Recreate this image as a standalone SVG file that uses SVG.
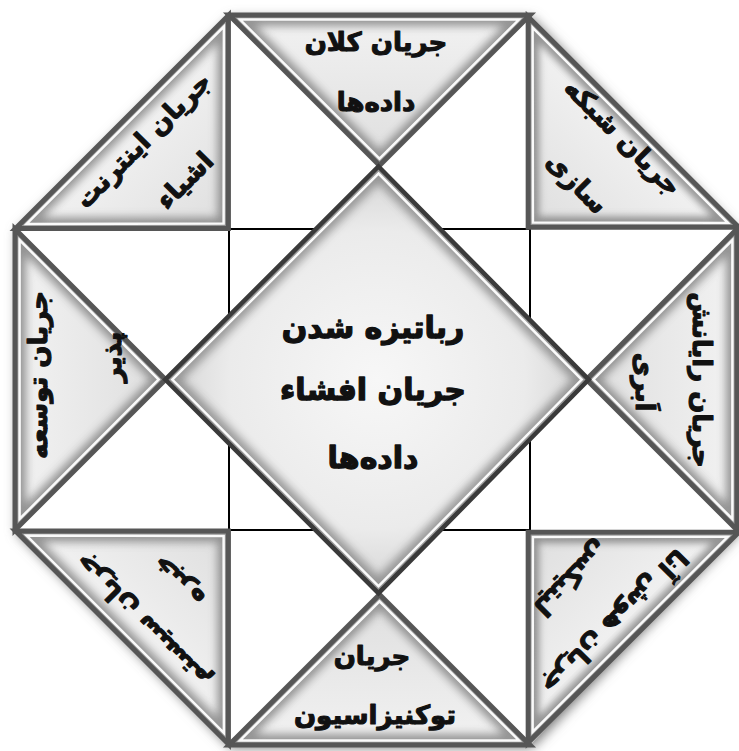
<svg xmlns="http://www.w3.org/2000/svg" width="739" height="751" viewBox="0 0 739 751">
<style>
 .lbl{font-family:"DejaVu Sans","Noto Sans",sans-serif;font-weight:bold;font-size:26px;fill:#111;stroke:#111;stroke-width:1.1;stroke-linejoin:round;text-anchor:middle}
 .big{font-size:30px;stroke-width:1.3}
 .thin{stroke:#000;stroke-width:2;fill:none}
</style>
<defs>
 <linearGradient id="face" x1="0" y1="0" x2="0" y2="1">
  <stop offset="0" stop-color="#f2f2f2"/><stop offset="1" stop-color="#dedede"/>
 </linearGradient>
 <radialGradient id="dface" cx="0.5" cy="0.5" r="0.5">
  <stop offset="0" stop-color="#f7f7f7"/><stop offset="0.7" stop-color="#ebebeb"/><stop offset="1" stop-color="#d4d4d4"/>
 </radialGradient>
 <filter id="soft" x="-20%" y="-30%" width="140%" height="160%"><feGaussianBlur stdDeviation="4"/></filter>
 <filter id="shadow" x="-10%" y="-10%" width="120%" height="120%"><feGaussianBlur stdDeviation="6"/></filter>
 <clipPath id="triClip"><polygon points="-150.5,0 150.5,0 0,150.5"/></clipPath>
 <clipPath id="diaClip"><polygon points="378.5,166.5 588.7,379.6 378.5,593.2 165.3,379.6"/></clipPath>
 <g id="tri">
  <polygon points="-150.5,0 150.5,0 0,150.5" fill="url(#face)"/>
  <g clip-path="url(#triClip)"><polygon points="-150.5,0 150.5,0 0,150.5" fill="none" stroke="#7e7e7e" stroke-width="22" filter="url(#soft)" opacity="0.8"/></g>
  <polygon points="-139.5,4.6 139.5,4.6 0,143.7" fill="none" stroke="#ffffff" stroke-width="2.5" opacity="0.95"/>
  <polygon points="-150.5,0 150.5,0 0,150.5" fill="none" stroke="#565656" stroke-width="5"/>
 </g>
</defs>
<rect width="739" height="751" fill="#fff"/>
<polygon points="229,15 530,15 737,229 737,530 530,745 229,745 15,530 15,229" fill="#7a7a7a" filter="url(#shadow)" transform="translate(2,3)"/>
<polygon points="229,15 530,15 737,229 737,530 530,745 229,745 15,530 15,229" fill="#fff"/>
<g id="lines" class="thin">
 <path d="M229,229V316M229,229H316M530,229V320M530,229H440M229,530V443M229,530H315M530,530V439M530,530H441"/>
</g>
<g id="node-top">
 <use href="#tri" transform="translate(379.5,15)"/>
 <text class="lbl" x="376" y="51">جریان کلان</text>
 <text class="lbl" x="376" y="111">داده‌ها</text>
</g>
<g id="node-top-right">
 <use href="#tri" transform="translate(633.5,122) rotate(45) scale(0.99)"/>
 <g transform="translate(623,137) rotate(45)"><text class="lbl" x="0" y="9">جریان شبکه</text><text class="lbl" x="0" y="74">سازی</text></g>
</g>
<g id="node-right">
 <use href="#tri" transform="translate(737,379.5) rotate(90)"/>
 <g transform="translate(702,380) rotate(90)"><text class="lbl" x="0" y="9">جریان رایانش</text><text class="lbl" x="2" y="66">اَبری</text></g>
</g>
<g id="node-bottom-right">
 <use href="#tri" transform="translate(633.5,637.5) rotate(135) scale(0.99)"/>
 <g transform="translate(615,622) rotate(135)"><text class="lbl" x="0" y="9">جریان هوش آنا</text><text class="lbl" x="0" y="70">لیتیکس</text></g>
</g>
<g id="node-bottom">
 <use href="#tri" transform="translate(379.5,745) rotate(180)"/>
 <text class="lbl" x="372" y="665">جریان</text>
 <text class="lbl" x="375" y="724">توکنیزاسیون</text>
</g>
<g id="node-bottom-left">
 <use href="#tri" transform="translate(122,637.5) rotate(-135)"/>
 <g transform="translate(142,622) rotate(-135)"><text class="lbl" x="0" y="9">جریان سیستم</text><text class="lbl" x="3" y="63">خبره</text></g>
</g>
<g id="node-left">
 <use href="#tri" transform="translate(15,379.5) rotate(-90)"/>
 <g transform="translate(38,375) rotate(-90)"><text class="lbl" x="0" y="9">جریان توسعه</text><text class="lbl" x="18" y="83">پذیر</text></g>
</g>
<g id="node-top-left">
 <use href="#tri" transform="translate(122,122) rotate(-45)"/>
 <g transform="translate(143,140) rotate(-45)"><text class="lbl" x="0" y="9">جریان اینترنت</text><text class="lbl" x="1" y="67">اشیاء</text></g>
</g>
<g id="node-center">
 <polygon points="378.5,166.5 588.7,379.6 378.5,593.2 165.3,379.6" fill="url(#dface)"/>
 <g clip-path="url(#diaClip)"><polygon points="378.5,166.5 588.7,379.6 378.5,593.2 165.3,379.6" fill="none" stroke="#808080" stroke-width="24" filter="url(#soft)" opacity="0.75"/></g>
 <polygon points="378.5,173.5 581.7,379.6 378.5,586.2 172.3,379.6" fill="none" stroke="#fff" stroke-width="2.5" opacity="0.95"/>
 <polygon points="378.5,166.5 588.7,379.6 378.5,593.2 165.3,379.6" fill="none" stroke="#3a3a3a" stroke-width="4.5"/>
 <text class="lbl big" x="373" y="338">رباتیزه شدن</text>
 <text class="lbl big" x="373" y="400">جریان افشاء</text>
 <text class="lbl big" x="373" y="468">داده‌ها</text>
</g>
</svg>
